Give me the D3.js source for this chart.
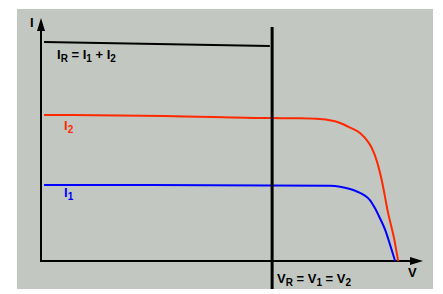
<!DOCTYPE html>
<html>
<head>
<meta charset="utf-8">
<script src="https://d3js.org/d3.v7.min.js"></script>
<style>
 body { margin: 0; background: #fff; }
 text { font-family: "Liberation Sans", Arial, sans-serif; font-weight: bold; }
</style>
</head>
<body>
<script>
// V in arbitrary units, I in arbitrary units
var redV = [0.08, 3.25, 6.0, 6.78, 7.30, 7.83, 8.09, 8.35, 8.56, 8.66, 8.80, 8.93, 9.08, 9.24, 9.35];
var redI = [6.01, 5.97, 5.88, 5.87, 5.84, 5.68, 5.49, 5.27, 4.91, 4.65, 4.07, 3.25, 2.02, 0.95, 0];
var blueV = [0.08, 7.57, 7.83, 8.09, 8.30, 8.48, 8.61, 8.74, 8.87, 9.01, 9.14, 9.27];
var blueI = [3.13, 3.10, 3.06, 2.96, 2.84, 2.69, 2.51, 2.18, 1.77, 1.28, 0.66, 0];
var sumV = [0.08, 5.99];
var sumI = [9.01, 8.85];
var vR = 6.05;

var width = 443, height = 294;
var x = d3.scaleLinear().domain([0, 10]).range([41, 423]);
var y = d3.scaleLinear().domain([0, 10]).range([261, 18]);

var svg = d3.select("body").append("svg")
 .attr("width", width)
 .attr("height", height);

// panel
svg.append("rect")
 .attr("x", 17).attr("y", 9)
 .attr("width", 416).attr("height", 280)
 .attr("fill", "#c2c8c1");

var line = d3.line()
 .x(function(d) { return x(d[0]); })
 .y(function(d) { return y(d[1]); })
 .curve(d3.curveMonotoneX);

function pts(vs, is) { return vs.map(function(v, i) { return [v, is[i]]; }); }

// axes
svg.append("line")
 .attr("x1", x(0)).attr("x2", x(0))
 .attr("y1", y(0) + 1).attr("y2", y(9.5))
 .attr("stroke", "#000").attr("stroke-width", 2);
svg.append("path")
 .attr("d", "M" + x(0) + "," + y(10) + "l-4,13h8z")
 .attr("fill", "#000");
svg.append("line")
 .attr("x1", x(0) - 1).attr("x2", x(9.7))
 .attr("y1", y(0)).attr("y2", y(0))
 .attr("stroke", "#000").attr("stroke-width", 2);
svg.append("path")
 .attr("d", "M" + x(10) + "," + y(0) + "l-13,-4v8z")
 .attr("fill", "#000");

// curves
svg.append("path").attr("d", line(pts(sumV, sumI)))
 .attr("fill", "none").attr("stroke", "#000").attr("stroke-width", 2);
svg.append("path").attr("d", line(pts(redV, redI)))
 .attr("fill", "none").attr("stroke", "#ff2800").attr("stroke-width", 2);
svg.append("path").attr("d", line(pts(blueV, blueI)))
 .attr("fill", "none").attr("stroke", "#0000ff").attr("stroke-width", 2);

// operating voltage line
svg.append("line")
 .attr("x1", x(vR)).attr("x2", x(vR))
 .attr("y1", 27).attr("y2", 289)
 .attr("stroke", "#000").attr("stroke-width", 3);

// labels
function label(xp, yp, color, parts) {
 var t = svg.append("text").attr("x", xp).attr("y", yp).attr("fill", color).attr("font-size", 13);
 parts.forEach(function(p) {
  var s = t.append("tspan").text(p[0]);
  if (p[1]) s.attr("font-size", 10).attr("dy", 3);
  else if (p[2]) s.attr("dy", -3);
 });
}
label(30, 27, "#000", [["I"]]);
label(408, 277, "#000", [["V"]]);
label(57, 59, "#000", [["I"], ["R", 1], [" = I", 0, 1], ["1", 1], [" + I", 0, 1], ["2", 1]]);
label(64, 130, "#ff2800", [["I"], ["2", 1]]);
label(64, 197, "#0000ff", [["I"], ["1", 1]]);
label(277, 283, "#000", [["V"], ["R", 1], [" = V", 0, 1], ["1", 1], [" = V", 0, 1], ["2", 1]]);
</script>
</body>
</html>
